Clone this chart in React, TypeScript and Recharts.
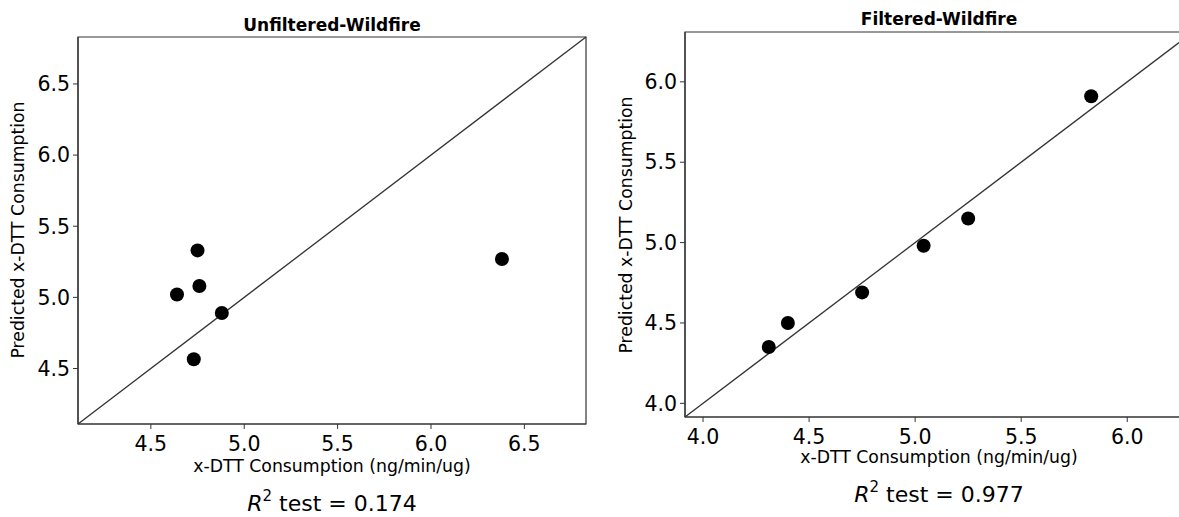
import React from "react";
import {
  ScatterChart,
  Scatter,
  XAxis,
  YAxis,
  ReferenceLine,
  ReferenceArea,
} from "recharts";

// measured vs. predicted x-DTT consumption, one point per sample
const unfilteredMeasured = [4.75, 4.64, 4.76, 4.88, 4.73, 6.38];
const unfilteredPredicted = [5.33, 5.02, 5.08, 4.89, 4.565, 5.27];
const filteredMeasured = [4.31, 4.4, 4.75, 5.04, 5.25, 5.83];
const filteredPredicted = [4.35, 4.5, 4.69, 4.98, 5.15, 5.91];

const unfilteredLimits = [4.11, 6.83];
const filteredLimits = [3.915, 6.31];
const unfilteredTicks = [4.5, 5.0, 5.5, 6.0, 6.5];
const filteredTicks = [4.0, 4.5, 5.0, 5.5, 6.0];

const titles = ["Unfiltered-Wildfire", "Filtered-Wildfire"];
const r2Values = ["0.174", "0.977"];
const xLabel = "x-DTT Consumption (ng/min/ug)";
const yLabel = "Predicted x-DTT Consumption";

const FONT = "DejaVu Sans";
const INK = "#000";
const SPINE = "#333";

const toPoints = (xs: number[], ys: number[]) =>
  xs.map((x, i) => ({ x, y: ys[i] }));

const Dot = (props: any) => (
  <circle cx={props.cx} cy={props.cy} r={7} fill="#000" />
);

type PanelProps = {
  points: { x: number; y: number }[];
  limits: number[];
  ticks: number[];
  width: number;
  height: number;
  margin: { top: number; right: number; bottom: number; left: number };
  yAxisWidth: number;
  xAxisHeight: number;
};

function ParityPanel({
  points,
  limits,
  ticks,
  width,
  height,
  margin,
  yAxisWidth,
  xAxisHeight,
}: PanelProps) {
  const [lo, hi] = limits;
  const tickStyle = { fontSize: 20.5, fill: INK, fontFamily: FONT };
  return (
    <ScatterChart width={width} height={height} margin={margin}>
      <XAxis
        type="number"
        dataKey="x"
        domain={[lo, hi]}
        ticks={ticks}
        interval={0}
        allowDataOverflow
        height={xAxisHeight}
        tick={tickStyle}
        tickSize={5}
        tickMargin={7}
        tickLine={{ stroke: SPINE }}
        axisLine={{ stroke: SPINE, strokeWidth: 1.2 }}
        tickFormatter={(v: number) => v.toFixed(1)}
      />
      <YAxis
        type="number"
        dataKey="y"
        domain={[lo, hi]}
        ticks={ticks}
        interval={0}
        allowDataOverflow
        width={yAxisWidth}
        tick={tickStyle}
        tickSize={5}
        tickMargin={3}
        tickLine={{ stroke: SPINE }}
        axisLine={{ stroke: SPINE, strokeWidth: 1.2 }}
        tickFormatter={(v: number) => v.toFixed(1)}
      />
      <ReferenceArea
        x1={lo}
        x2={hi}
        y1={lo}
        y2={hi}
        fill="none"
        fillOpacity={0}
        stroke={SPINE}
        strokeWidth={1.2}
      />
      {/* identity line y = x */}
      <ReferenceLine
        segment={[
          { x: lo, y: lo },
          { x: hi, y: hi },
        ]}
        stroke="#333"
        strokeWidth={1.3}
      />
      <Scatter data={points} shape={Dot} isAnimationActive={false} />
    </ScatterChart>
  );
}

function R2Text({ x, y, value }: { x: number; y: number; value: string }) {
  return (
    <text x={x} y={y} textAnchor="middle" fontSize={22} fill={INK}>
      <tspan fontStyle="italic">R</tspan>
      <tspan fontSize={15} dy={-10}>
        2
      </tspan>
      <tspan dy={10}>{` test = ${value}`}</tspan>
    </text>
  );
}

export default function App() {
  return (
    <div
      style={{
        position: "absolute",
        left: 0,
        top: 0,
        width: 1179,
        height: 517,
        overflow: "hidden",
        background: "#fff",
        fontFamily: FONT,
      }}
    >
      <div style={{ position: "absolute", left: 0, top: 0 }}>
        <ParityPanel
          points={toPoints(unfilteredMeasured, unfilteredPredicted)}
          limits={unfilteredLimits}
          ticks={unfilteredTicks}
          width={600}
          height={517}
          margin={{ top: 37, right: 14, bottom: 0, left: 0 }}
          yAxisWidth={78}
          xAxisHeight={93}
        />
      </div>
      <div style={{ position: "absolute", left: 600, top: 0 }}>
        <ParityPanel
          points={toPoints(filteredMeasured, filteredPredicted)}
          limits={filteredLimits}
          ticks={filteredTicks}
          width={600}
          height={517}
          margin={{ top: 32, right: 7, bottom: 0, left: 0 }}
          yAxisWidth={85}
          xAxisHeight={100}
        />
      </div>
      <svg
        width={1179}
        height={517}
        style={{ position: "absolute", left: 0, top: 0, pointerEvents: "none" }}
        fontFamily={FONT}
      >
        {/* left panel labels */}
        <text x={332} y={31} textAnchor="middle" fontSize={17} fontWeight="bold" fill={INK}>
          {titles[0]}
        </text>
        <text x={332} y={472} textAnchor="middle" fontSize={17.3} fill={INK}>
          {xLabel}
        </text>
        <text
          x={18}
          y={230}
          textAnchor="middle"
          dominantBaseline="central"
          fontSize={17.3}
          fill={INK}
          transform="rotate(-90 18 230)"
        >
          {yLabel}
        </text>
        <R2Text x={332} y={511} value={r2Values[0]} />

        {/* right panel labels */}
        <text x={939} y={25} textAnchor="middle" fontSize={17} fontWeight="bold" fill={INK}>
          {titles[1]}
        </text>
        <text x={939} y={463} textAnchor="middle" fontSize={17.3} fill={INK}>
          {xLabel}
        </text>
        <text
          x={626}
          y={225}
          textAnchor="middle"
          dominantBaseline="central"
          fontSize={17.3}
          fill={INK}
          transform="rotate(-90 626 225)"
        >
          {yLabel}
        </text>
        <R2Text x={939} y={502} value={r2Values[1]} />
      </svg>
    </div>
  );
}
